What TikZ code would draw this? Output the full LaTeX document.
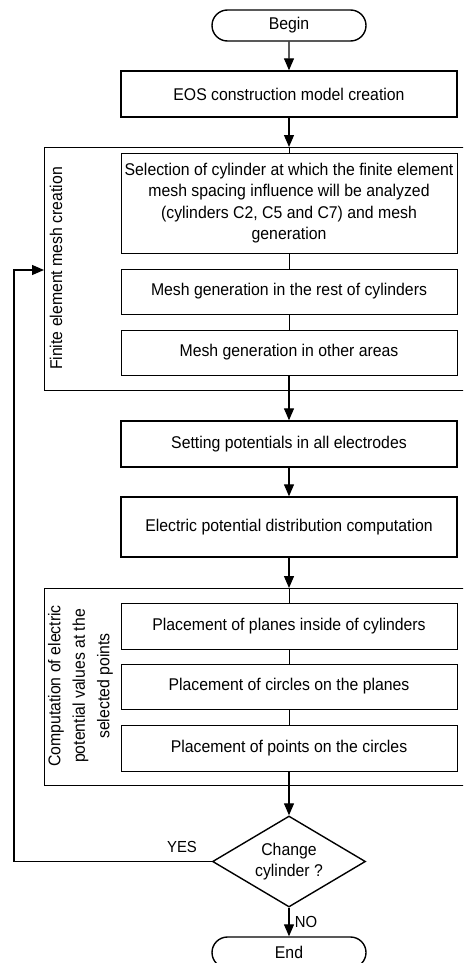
\documentclass[tikz,border=0pt]{standalone}
\usepackage{fontspec}
\setmainfont{Liberation Sans}[FakeStretch=0.93]
\usetikzlibrary{arrows.meta,shapes.geometric,shapes.misc}
\begin{document}
\begin{tikzpicture}[x=1pt,y=-1pt,
  txt/.style={font=\fontsize{17}{21.3}\selectfont},
  stepbox/.style={draw, line width=1.4pt, minimum width=336pt, inner sep=0pt, align=center, txt},
  inbox/.style={draw, line width=1pt, minimum width=336pt, inner sep=0pt, align=center, txt},
  term/.style={draw, line width=1.4pt, rounded rectangle, minimum width=154pt, minimum height=31pt, inner sep=0pt, txt},
  grp/.style={draw, line width=1.4pt, anchor=north west, inner sep=0pt},
  decision/.style={draw, line width=1.4pt, diamond, aspect=1.68, minimum width=153pt, minimum height=91pt, inner sep=0pt, align=center, txt},
  arr/.style={line width=1.3pt, -{Triangle[length=12pt,width=10pt]}},
  ln/.style={line width=1pt},
  lbl/.style={font=\fontsize{16}{18}\selectfont}
]
\useasboundingbox (0,0) rectangle (463,963);
\clip (0,0) rectangle (463,963);

\node[term] (begin) at (289,25.5) {Begin};
\node[stepbox, minimum height=46pt] (eos) at (289,94) {EOS construction model creation};

\node[grp, minimum width=440pt, minimum height=243pt] (g1) at (44,147) {};
\node[txt, rotate=90] (g1l) at (56,268.5) {Finite element mesh creation};
\node[inbox, minimum height=100pt] (sel) at (289,203) {Selection of cylinder at which the finite element\\mesh spacing influence will be analyzed\\(cylinders C2, C5 and C7) and mesh\\generation};
\node[inbox, minimum height=45pt] (mr) at (289,291.5) {Mesh generation in the rest of cylinders};
\node[inbox, minimum height=45pt] (mo) at (289,352.5) {Mesh generation in other areas};

\node[stepbox, minimum height=46pt] (set) at (289,444) {Setting potentials in all electrodes};
\node[stepbox, minimum height=60pt] (elc) at (289,527) {Electric potential distribution computation};

\node[grp, minimum width=440pt, minimum height=197pt] (g2) at (44,588) {};
\node[txt, rotate=90, align=center, font=\fontsize{17}{24.5}\selectfont] (g2l) at (80.5,686) {Computation of electric\\potential values at the\\selected points};
\node[inbox, minimum height=46pt] (pl) at (289,626) {Placement of planes inside of cylinders};
\node[inbox, minimum height=45pt] (ci) at (289,686.5) {Placement of circles on the planes};
\node[inbox, minimum height=46pt] (pt) at (289,748) {Placement of points on the circles};

\node[decision] (dec) at (289,861.5) {Change\\cylinder ?};
\node[term] (fin) at (289,952.5) {End};

\coordinate (g1top) at (289,147);
\coordinate (g2top) at (289,588);
\coordinate (loopb) at (14,861.5);
\coordinate (loopt) at (14,270);
\coordinate (g1in) at (44,270);

\draw[arr] (begin) -- (eos);
\draw[arr] (eos) -- (g1top);
\draw[ln] (g1top) -- (sel);
\draw[ln] (sel) -- (mr);
\draw[ln] (mr) -- (mo);
\draw[arr] (mo) -- (set);
\draw[arr] (set) -- (elc);
\draw[arr] (elc) -- (g2top);
\draw[ln] (g2top) -- (pl);
\draw[ln] (pl) -- (ci);
\draw[ln] (ci) -- (pt);
\draw[arr] (pt) -- (dec);
\draw[arr] (dec) -- node[lbl, right, xshift=2pt] (nol) {NO} (fin);
\draw[arr] (dec.west) -- (loopb) -- (loopt) -- (g1in);
\node[lbl] (yesl) at (182,847) {YES};
\end{tikzpicture}
\end{document}
